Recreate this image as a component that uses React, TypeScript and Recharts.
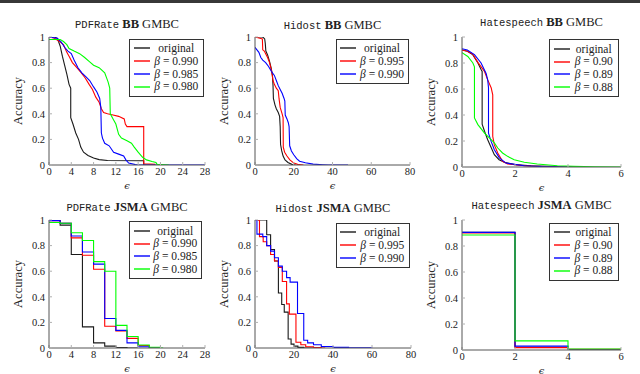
import React from 'react';
import { LineChart, Line, XAxis, YAxis } from 'recharts';

type Pt = [number, number];

const SERIF = "'Liberation Serif', 'Times New Roman', 'DejaVu Serif', serif";
const MONO = "'Liberation Mono', 'Courier New', 'DejaVu Sans Mono', monospace";

const C_BLACK = '#1a1a1a';
const C_RED = '#ff0000';
const C_BLUE = '#0000ff';
const C_GREEN = '#00ff00';

const yTicks = [0, 0.2, 0.4, 0.6, 0.8, 1];
const pdfTicks = [0, 4, 8, 12, 16, 20, 24, 28];
const hidTicks = [0, 20, 40, 60, 80];
const hateTicks = [0, 2, 4, 6];

const pdfBetas = ['0.990', '0.985', '0.980'];
const hidBetas = ['0.995', '0.990'];
const hateBetas = ['0.90', '0.89', '0.88'];

// ---- PDFRate BB ----
const pdfBBOrig: Pt[] = [[0,1],[1,1],[1.5,0.99],[2,0.93],[2.4,0.85],[2.8,0.78],[3.2,0.71],[3.6,0.63],[3.9,0.6],[3.9,0.37],[4.3,0.32],[4.8,0.25],[5.3,0.2],[5.7,0.14],[6.2,0.1],[7,0.075],[8,0.055],[9,0.042],[10.5,0.035],[17,0.033],[17,0],[19,0]];
const pdfBBb990: Pt[] = [[0,1],[1,0.99],[2,0.96],[2.6,0.94],[3.2,0.88],[3.6,0.85],[4.2,0.8],[5,0.76],[5.8,0.72],[6.5,0.68],[7.2,0.63],[7.8,0.59],[8.4,0.53],[9,0.49],[9.4,0.44],[9.8,0.41],[10.5,0.4],[11.5,0.39],[12.5,0.38],[13.5,0.36],[13.7,0.32],[14,0.3],[17,0.3],[17,0.01],[19,0.005],[19,0]];
const pdfBBb985: Pt[] = [[0,1],[1.5,0.99],[2.2,0.96],[2.8,0.92],[3.4,0.89],[4,0.87],[4.5,0.82],[5.2,0.76],[5.9,0.72],[6.6,0.69],[7.3,0.66],[8,0.61],[8.6,0.57],[9.1,0.52],[9.3,0.45],[9.4,0.25],[9.6,0.21],[10,0.17],[10.8,0.15],[11.6,0.1],[12.5,0.085],[13.4,0.07],[13.8,0.04],[14.3,0.015],[15.5,0.003],[16,0],[28,0]];
const pdfBBb980: Pt[] = [[0,0.98],[2,0.98],[2.6,0.965],[3.2,0.94],[3.6,0.91],[4.5,0.89],[5.5,0.87],[6.4,0.84],[7.2,0.81],[8,0.78],[9,0.76],[10,0.72],[10.6,0.65],[10.9,0.6],[11,0.4],[11.5,0.36],[12,0.32],[12.5,0.24],[13,0.21],[14,0.19],[14.8,0.17],[15.3,0.14],[16,0.1],[16.8,0.06],[17.5,0.04],[18.5,0.027],[19.2,0.02],[19.4,0.005],[21.5,0]];

// ---- Hidost BB ----
const hidBBOrig: Pt[] = [[0,1],[4,1],[5,0.985],[5.3,0.95],[5.6,0.89],[6.5,0.86],[7.5,0.81],[8.3,0.76],[9,0.7],[9.3,0.62],[9.5,0.52],[10.3,0.47],[11,0.44],[12,0.41],[12.7,0.38],[13,0.3],[13.2,0.16],[13.8,0.11],[14.5,0.07],[15.5,0.04],[17,0.02],[19,0.005],[21,0]];
const hidBBb995: Pt[] = [[0,1],[2.5,0.99],[3.8,0.985],[4,0.9],[4.8,0.89],[5.5,0.87],[6.5,0.84],[7.5,0.8],[8.5,0.74],[9.3,0.66],[10,0.63],[11,0.6],[12,0.58],[12.4,0.52],[13,0.45],[14,0.4],[14.5,0.37],[14.6,0.14],[15.3,0.1],[16.5,0.07],[18,0.04],[20,0.015],[22,0.005],[25,0]];
const hidBBb990: Pt[] = [[0,0.92],[1,0.9],[2,0.88],[3,0.84],[4,0.82],[5.5,0.8],[7,0.77],[8.5,0.73],[10,0.7],[11,0.66],[12,0.62],[13,0.59],[14,0.56],[15,0.52],[15.4,0.5],[15.6,0.39],[16.5,0.36],[17.2,0.33],[17.6,0.3],[17.9,0.15],[18.8,0.11],[20,0.08],[21.5,0.05],[23,0.03],[26,0.017],[30,0.007],[35,0.002],[38,0],[48,0]];

// ---- Hatespeech BB ----
const hateBBOrig: Pt[] = [[0,0.9],[0.2,0.89],[0.4,0.865],[0.6,0.8],[0.72,0.75],[0.76,0.735],[0.76,0.33],[0.85,0.275],[0.97,0.21],[1.1,0.15],[1.22,0.095],[1.4,0.056],[1.6,0.036],[2,0.018],[2.6,0.01],[3.6,0.004],[4.5,0]];
const hateBBb90: Pt[] = [[0,0.9],[0.2,0.89],[0.4,0.87],[0.6,0.805],[0.85,0.735],[0.97,0.67],[1.1,0.61],[1.16,0.555],[1.16,0.236],[1.22,0.17],[1.35,0.108],[1.53,0.044],[1.72,0.023],[2.35,0.01],[3,0.004],[4.5,0]];
const hateBBb89: Pt[] = [[0,0.91],[0.2,0.9],[0.47,0.865],[0.72,0.8],[0.91,0.72],[0.97,0.67],[1,0.61],[1,0.26],[1.1,0.197],[1.22,0.133],[1.41,0.07],[1.66,0.03],[2.35,0.01],[3,0.004],[4.5,0]];
const hateBBb88: Pt[] = [[0,0.88],[0.22,0.85],[0.41,0.8],[0.47,0.77],[0.47,0.377],[0.6,0.326],[0.85,0.26],[1.1,0.21],[1.22,0.185],[1.35,0.146],[1.53,0.108],[1.72,0.082],[1.97,0.056],[2.35,0.036],[2.84,0.023],[3.6,0.01],[4.2,0.005],[5,0.001],[6,0]];

// ---- PDFRate JSMA (steps) ----
const pdfJOrig: Pt[] = [[0,1],[2,0.96],[4,0.73],[6,0.165],[8,0.04],[10,0.015],[12,0.004],[14,0],[16,0]];
const pdfJb990: Pt[] = [[0,0.995],[2,0.975],[4,0.86],[6,0.725],[8,0.615],[10,0.17],[12,0.133],[14,0.075],[16,0.02],[18,0],[20,0]];
const pdfJb985: Pt[] = [[0,0.995],[2,0.975],[4,0.875],[6,0.75],[8,0.655],[10,0.23],[12,0.138],[14,0.04],[16,0.01],[18,0],[20,0]];
const pdfJb980: Pt[] = [[0,0.98],[2,0.975],[4,0.9],[6,0.84],[8,0.675],[10,0.6],[12,0.177],[14,0.09],[16,0.023],[18,0.006],[20,0],[20.5,0]];

// ---- Hidost JSMA (steps) ----
const hidJOrig: Pt[] = [[0,1],[6,0.885],[8,0.77],[10,0.68],[12,0.43],[13.7,0.34],[15,0.28],[17,0.07],[18.5,0.03],[20,0.015],[22,0.005],[25,0],[30,0]];
const hidJb995: Pt[] = [[0,1],[2.3,0.87],[4.2,0.83],[6,0.8],[8,0.73],[10,0.68],[12,0.63],[14,0.52],[16.2,0.345],[17.6,0.265],[21,0.045],[23.5,0.025],[26,0.01],[30,0.003],[34,0],[36,0]];
const hidJb990: Pt[] = [[0,1],[1,0.89],[4,0.87],[6,0.8],[8,0.757],[10,0.705],[12,0.64],[14,0.6],[16.2,0.55],[18,0.515],[21.8,0.27],[25,0.06],[27,0.04],[30,0.025],[34,0.012],[40,0.005],[48,0.002],[60,0]];

// ---- Hatespeech JSMA (steps) ----
const hateJOrig: Pt[] = [[0,0.905],[2,0.02],[4,0],[6,0]];
const hateJb90: Pt[] = [[0,0.9],[2,0.018],[4,0.005],[6,0.005]];
const hateJb89: Pt[] = [[0,0.905],[2,0.03],[4,0],[6,0]];
const hateJb88: Pt[] = [[0,0.885],[2,0.07],[4,0.008],[6,0.008]];

const toData = (pts: Pt[]) => pts.map(([x, y]) => ({ x, y }));
const COLORS = [C_BLACK, C_RED, C_BLUE, C_GREEN];

type PanelProps = {
  pl: number; pr: number; pt: number; pb: number;
  xMax: number; xTicks: number[]; series: Pt[][]; step: boolean;
  ds: string; method: string; betas: string[];
  titleDy: number; leg: { left: number; top: number; width: number };
};

function Panel(p: PanelProps) {
  const ML = 50, MT = 30, MR = 10, MB = 25;
  const W = p.pr - p.pl + ML + MR;
  const H = p.pb - p.pt + MT + MB;
  const cx = (p.pl + p.pr) / 2;
  const cy = (p.pt + p.pb) / 2;
  const tickStyle = { fontSize: 10.5, fill: '#222', fontFamily: SERIF };
  const labels = ['original', ...p.betas];
  return (
    <>
      <div style={{ position: 'absolute', left: p.pl - ML, top: p.pt - MT, width: W, height: H }}>
        <LineChart width={W} height={H} margin={{ top: MT, right: MR, bottom: 0, left: 0 }}>
          <XAxis xAxisId="b" type="number" dataKey="x" domain={[0, p.xMax]} ticks={p.xTicks} interval={0}
            height={MB} tickSize={-3} tickMargin={6} allowDataOverflow
            axisLine={{ stroke: '#555' }} tickLine={{ stroke: '#b0b0b0' }} tick={tickStyle} />
          <XAxis xAxisId="t" orientation="top" type="number" dataKey="x" domain={[0, p.xMax]} ticks={p.xTicks} interval={0}
            height={0} tickSize={-3} tick={false} allowDataOverflow
            axisLine={{ stroke: '#555' }} tickLine={{ stroke: '#b0b0b0' }} />
          <YAxis yAxisId="l" type="number" domain={[0, 1]} ticks={yTicks} interval={0}
            width={ML} tickSize={-3} tickMargin={7} allowDataOverflow
            axisLine={{ stroke: '#555' }} tickLine={{ stroke: '#b0b0b0' }} tick={tickStyle}
            tickFormatter={(v: number) => String(v)} />
          <YAxis yAxisId="r" orientation="right" type="number" domain={[0, 1]} ticks={yTicks} interval={0}
            width={0} tickSize={-3} tick={false} allowDataOverflow
            axisLine={{ stroke: '#555' }} tickLine={{ stroke: '#b0b0b0' }} />
          {p.series.map((s, i) => (
            <Line key={i} xAxisId="b" yAxisId="l" data={toData(s)} dataKey="y"
              type={p.step ? 'stepAfter' : 'linear'} stroke={COLORS[i]} strokeWidth={1.1}
              dot={false} activeDot={false} isAnimationActive={false} />
          ))}
        </LineChart>
      </div>
      <div style={{ position: 'absolute', left: cx, top: p.pt - 14 + p.titleDy, transform: 'translate(-50%, -50%)', whiteSpace: 'nowrap', color: '#222' }}>
        <span style={{ fontFamily: MONO, fontSize: 10.5 }}>{p.ds}</span>
        <span style={{ fontFamily: SERIF, fontSize: 12.5 }}> <b>{p.method}</b> GMBC</span>
      </div>
      <div style={{ position: 'absolute', left: p.pl - 31, top: cy, transform: 'translate(-50%, -50%) rotate(-90deg)', fontFamily: SERIF, fontSize: 12.5, color: '#222', whiteSpace: 'nowrap' }}>
        Accuracy
      </div>
      <div style={{ position: 'absolute', left: cx, top: p.pb + 20, transform: 'translate(-50%, -50%)', fontFamily: "'DejaVu Serif', serif", fontStyle: 'italic', fontSize: 10, color: '#222' }}>
        ϵ
      </div>
      <div style={{ position: 'absolute', left: p.leg.left, top: p.leg.top, width: p.leg.width, border: '1px solid #333', background: '#fff', padding: '2.5px 0', boxSizing: 'border-box' }}>
        {labels.map((lb, i) => (
          <div key={i} style={{ display: 'flex', alignItems: 'center', height: 12.8 }}>
            <svg width={16} height={4} style={{ marginLeft: 3.5, display: 'block', flex: 'none' }}>
              <line x1={0} y1={2} x2={16} y2={2} stroke={COLORS[i]} strokeWidth={1.4} />
            </svg>
            <div style={{ flex: 1, textAlign: 'center', fontFamily: SERIF, fontSize: 11.5, lineHeight: '12.8px', whiteSpace: 'nowrap', color: '#222' }}>
              {i === 0 ? lb : (<><i>β</i> = {lb}</>)}
            </div>
          </div>
        ))}
      </div>
    </>
  );
}

export default function App() {
  return (
    <div style={{ position: 'absolute', left: 0, top: 0, width: 640, height: 374, background: '#fff', overflow: 'hidden' }}>
      <div style={{ position: 'absolute', left: 0, top: 0, width: 640, height: 3, background: '#383838' }} />
      <Panel pl={49} pr={205} pt={37} pb={165} xMax={28} xTicks={pdfTicks} step={false}
        series={[pdfBBOrig, pdfBBb990, pdfBBb985, pdfBBb980]} ds="PDFRate" method="BB" betas={pdfBetas}
        titleDy={0} leg={{ left: 129, top: 38.5, width: 75 }} />
      <Panel pl={255} pr={410} pt={37} pb={165} xMax={80} xTicks={hidTicks} step={false}
        series={[hidBBOrig, hidBBb995, hidBBb990]} ds="Hidost" method="BB" betas={hidBetas}
        titleDy={0.5} leg={{ left: 335.5, top: 38.5, width: 73.5 }} />
      <Panel pl={462} pr={621} pt={37} pb={167} xMax={6} xTicks={hateTicks} step={false}
        series={[hateBBOrig, hateBBb90, hateBBb89, hateBBb88]} ds="Hatespeech" method="BB" betas={hateBetas}
        titleDy={-2} leg={{ left: 549, top: 39, width: 70 }} />
      <Panel pl={49} pr={205} pt={220} pb={348} xMax={28} xTicks={pdfTicks} step={true}
        series={[pdfJOrig, pdfJb990, pdfJb985, pdfJb980]} ds="PDFRate" method="JSMA" betas={pdfBetas}
        titleDy={0} leg={{ left: 129, top: 221, width: 73 }} />
      <Panel pl={255} pr={411} pt={220} pb={348} xMax={80} xTicks={hidTicks} step={true}
        series={[hidJOrig, hidJb995, hidJb990]} ds="Hidost" method="JSMA" betas={hidBetas}
        titleDy={1} leg={{ left: 335.5, top: 222.5, width: 74 }} />
      <Panel pl={462} pr={621} pt={220} pb={350} xMax={6} xTicks={hateTicks} step={true}
        series={[hateJOrig, hateJb90, hateJb89, hateJb88]} ds="Hatespeech" method="JSMA" betas={hateBetas}
        titleDy={-2} leg={{ left: 549, top: 222.5, width: 69.5 }} />
    </div>
  );
}
